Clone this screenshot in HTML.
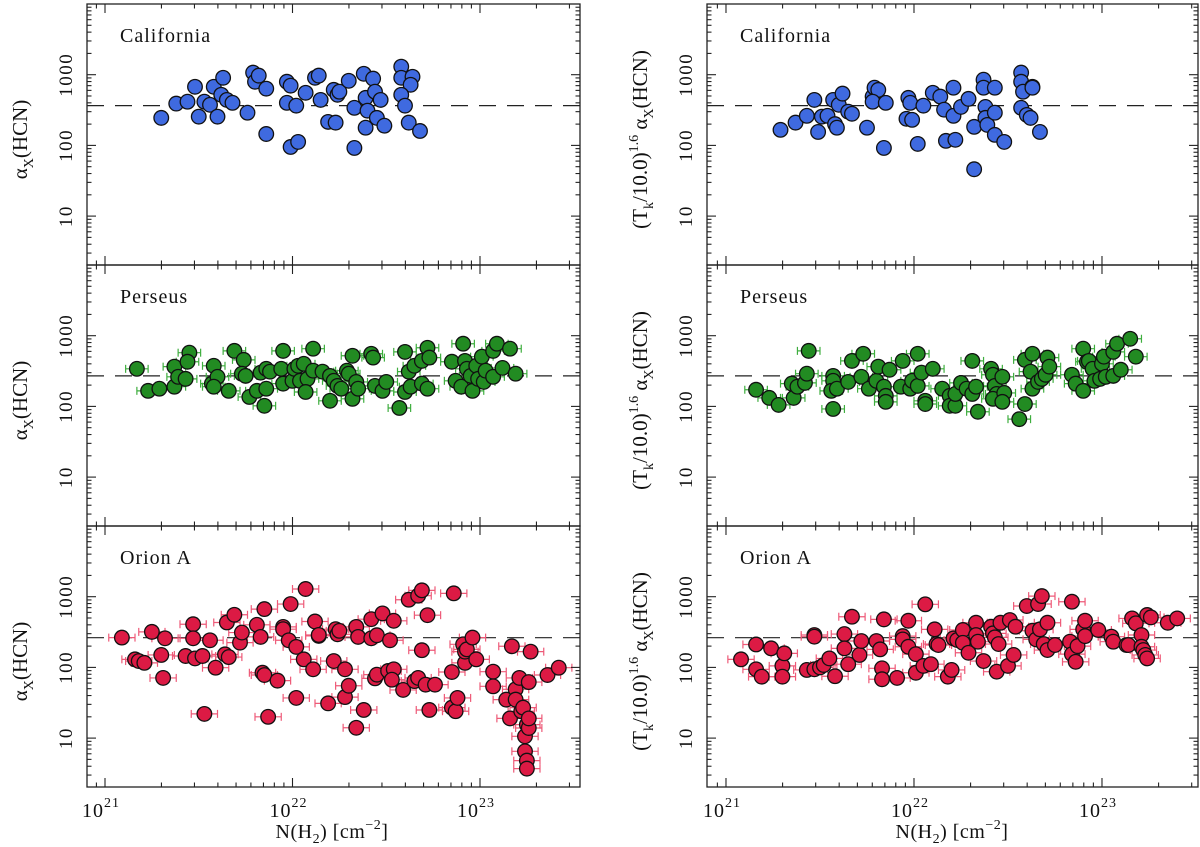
<!DOCTYPE html>
<html><head><meta charset="utf-8"><style>
html,body{margin:0;padding:0;background:#fff;}
svg{display:block;font-family:"Liberation Serif","DejaVu Serif",serif;}
</style></head><body>
<svg id="chart" width="1200" height="847" viewBox="0 0 1200 847" xmlns="http://www.w3.org/2000/svg"></svg>
<script>
const calLeftN=[21.30,21.38,21.44,21.48,21.50,21.53,21.56,21.58,21.60,21.62,21.63,21.65,21.68,21.76,21.79,21.80,21.82,21.86,21.86,21.97,21.97,21.99,21.99,22.02,22.03,22.07,22.12,22.14,22.15,22.19,22.22,22.23,22.24,22.25,22.30,22.33,22.33,22.38,22.39,22.40,22.39,22.43,22.44,22.45,22.47,22.49,22.58,22.58,22.64,22.63,22.58,22.60,22.62,22.68];
const calLeftA=[245,390,415,675,255,415,375,675,255,520,905,440,400,290,1070,795,970,635,145,400,795,700,95,365,112,555,905,970,440,215,610,210,520,575,820,340,92,1030,470,310,178,880,575,245,440,190,1300,905,935,720,520,365,210,160];
const calRightN=[21.29,21.37,21.43,21.47,21.49,21.51,21.54,21.58,21.59,21.57,21.60,21.62,21.65,21.67,21.75,21.78,21.79,21.81,21.78,21.85,21.84,21.97,21.98,21.96,21.99,22.02,22.05,22.10,22.14,22.16,22.17,22.22,22.21,22.21,22.25,22.29,22.32,22.32,22.37,22.37,22.38,22.38,22.39,22.43,22.43,22.43,22.48,22.57,22.57,22.58,22.57,22.60,22.62,22.63,22.63,22.67];
const calRightA=[166,210,262,440,155,255,262,200,178,440,375,540,300,280,178,490,655,610,415,400,92,470,400,238,230,105,365,555,490,320,116,120,262,655,350,455,183,46,850,655,350,245,195,290,655,141,112,1070,795,575,340,270,245,675,655,155];
const perLeftN=[21.17,21.23,21.29,21.37,21.37,21.39,21.43,21.45,21.44,21.58,21.57,21.60,21.58,21.66,21.69,21.74,21.73,21.75,21.77,21.81,21.86,21.85,21.83,21.86,21.88,21.94,21.95,21.95,22.00,22.01,22.03,22.06,22.04,22.08,22.07,22.11,22.11,22.16,22.20,22.20,22.22,22.24,22.26,22.29,22.30,22.32,22.32,22.34,22.35,22.42,22.43,22.44,22.48,22.50,22.57,22.60,22.60,22.62,22.63,22.65,22.69,22.69,22.72,22.73,22.72,22.85,22.87,22.91,22.92,22.90,22.93,22.95,22.96,22.98,22.99,23.01,23.02,23.03,23.07,23.09,23.07,23.12,23.16,23.19];
const perLeftA=[340,166,178,190,365,262,245,575,428,375,210,262,190,166,610,455,290,270,136,166,178,102,300,340,310,340,210,610,230,340,375,400,230,245,160,655,320,310,270,120,230,195,178,320,290,520,128,222,178,555,490,195,166,222,95,160,590,310,190,375,210,440,675,490,178,428,230,770,440,190,340,270,166,375,245,505,222,320,610,770,262,350,655,290];
const perRightN=[21.16,21.23,21.28,21.35,21.36,21.38,21.42,21.43,21.44,21.57,21.57,21.56,21.59,21.57,21.65,21.67,21.72,21.73,21.76,21.80,21.81,21.84,21.85,21.85,21.87,21.93,21.94,21.98,21.99,22.02,22.02,22.04,22.06,22.06,22.10,22.15,22.19,22.19,22.22,22.22,22.25,22.28,22.31,22.33,22.31,22.34,22.41,22.42,22.43,22.44,22.42,22.47,22.48,22.47,22.56,22.59,22.59,22.63,22.62,22.63,22.66,22.68,22.70,22.71,22.72,22.84,22.86,22.90,22.90,22.92,22.93,22.95,22.96,22.99,23.00,23.01,23.02,23.06,23.06,23.08,23.10,23.15,23.18];
const perRightA=[172,132,105,210,132,190,215,290,610,270,230,166,178,92,222,440,262,555,178,230,365,190,141,116,330,190,440,178,230,555,195,300,120,108,340,178,141,102,102,150,215,178,150,190,440,84,340,280,195,150,128,262,155,116,66,108,455,555,310,178,222,245,280,490,365,280,210,655,166,428,440,340,230,245,400,505,262,270,590,770,330,905,505];
const oriLeftN=[21.09,21.16,21.18,21.21,21.25,21.30,21.32,21.31,21.43,21.47,21.47,21.48,21.52,21.53,21.56,21.59,21.64,21.65,21.66,21.69,21.72,21.73,21.81,21.83,21.84,21.85,21.85,21.87,21.92,21.95,21.95,21.98,21.99,22.02,22.02,22.06,22.07,22.11,22.12,22.14,22.14,22.19,22.22,22.23,22.24,22.25,22.28,22.28,22.30,22.34,22.34,22.35,22.38,22.42,22.42,22.44,22.45,22.45,22.48,22.51,22.52,22.54,22.54,22.53,22.59,22.62,22.65,22.67,22.67,22.69,22.69,22.71,22.72,22.73,22.76,22.85,22.85,22.86,22.87,22.88,22.91,22.92,22.92,22.93,22.96,22.98,23.07,23.07,23.14,23.16,23.17,23.19,23.19,23.21,23.22,23.23,23.25,23.24,23.24,23.25,23.25,23.26,23.26,23.27,23.26,23.36,23.42];
const oriLeftA=[264,130,123,116,318,150,258,71,145,408,258,134,145,22,242,99,153,432,140,555,224,311,400,270,84,78,668,20,65,374,347,242,787,195,37,130,1285,94,446,279,288,31,123,347,294,329,94,38,55,14,374,270,25,258,481,70,79,285,580,89,242,456,94,67,48,906,64,1033,71,175,1230,57,548,25,57,86,27,1115,24,37,212,116,167,180,264,130,87,54,35,19,199,49,35,71,24,27,15.5,10.6,6.5,4.8,3.7,13.9,19,167,62,78,99];
const oriRightN=[21.08,21.16,21.16,21.19,21.24,21.30,21.31,21.30,21.43,21.47,21.47,21.47,21.50,21.52,21.55,21.58,21.63,21.63,21.65,21.67,21.71,21.72,21.80,21.82,21.83,21.83,21.84,21.91,21.94,21.94,21.97,21.97,22.01,22.01,22.05,22.06,22.09,22.11,22.12,22.13,22.18,22.20,22.21,22.23,22.26,22.26,22.29,22.33,22.33,22.34,22.37,22.41,22.42,22.43,22.45,22.44,22.46,22.50,22.51,22.53,22.54,22.60,22.66,22.68,22.63,22.65,22.67,22.69,22.71,22.71,22.75,22.83,22.84,22.84,22.86,22.87,22.90,22.91,22.91,22.98,23.05,23.06,23.13,23.14,23.16,23.18,23.21,23.21,23.22,23.23,23.24,23.24,23.26,23.35,23.40];
const oriRightA=[130,211,94,74,186,105,158,74,92,287,272,94,100,108,134,75,296,186,111,521,150,236,236,180,97,68,478,71,277,249,457,196,154,84,105,780,111,345,214,207,74,92,257,244,338,223,161,428,287,231,123,376,303,266,214,87,428,105,468,150,376,738,788,1020,330,249,345,214,428,176,207,231,154,849,120,200,345,457,277,338,272,231,207,207,493,420,287,196,176,150,134,551,510,428,493];
const refValues=[365,270,263];
const regionNames=["California","Perseus","Orion A"];
const yTickValues=[10,100,1000];
const yTickLabels=["10","100","1000"];
const xTickExps=[21,22,23];

const NS="http://www.w3.org/2000/svg";
const svg=document.getElementById('chart');
function mk(tag,attrs,parent){const e=document.createElementNS(NS,tag);for(const k in attrs)e.setAttribute(k,attrs[k]);(parent||svg).appendChild(e);return e;}

const cols=[{left:87,w:493,x0:20.904,dec:187.5},{left:707,w:491,x0:20.899,dec:188}];
const rows=[4,265,526]; const PH=261; const LOGTOP=4.0; const YDEC=70.7;
const fills=["#3f6ae0","#228b22","#dc1a44"];
const errCols=["#6f93f0","#3fae3f","#ee5a78"];
const xErr=[0.0,0.06,0.07], yErr=[0.05,0.05,0.06];
const data=[[ [calLeftN,calLeftA],[calRightN,calRightA] ],[ [perLeftN,perLeftA],[perRightN,perRightA] ],[ [oriLeftN,oriLeftA],[oriRightN,oriRightA] ]];

function xs(c,l){return cols[c].left+(l-cols[c].x0)*cols[c].dec;}
function ys(r,v){return rows[r]+(LOGTOP-Math.log10(v))*YDEC;}
function ysl(r,lv){return rows[r]+(LOGTOP-lv)*YDEC;}

for(let r=0;r<3;r++){for(let c=0;c<2;c++){
  const C=cols[c], top=rows[r];
  const g=mk('g',{});
  
  
  const rl=mk('line',{x1:C.left,x2:C.left+C.w,y1:ys(r,refValues[r]),y2:ys(r,refValues[r]),stroke:'#222','stroke-width':1.2,'stroke-dasharray':'17,11'},g);
  
  
  const N=data[r][c][0], A=data[r][c][1];
  const eg=mk('g',{stroke:errCols[r],'stroke-width':1.2,fill:'none'},g);
  for(let i=0;i<N.length;i++){
    const x=xs(c,N[i]), y=ys(r,A[i]);
    if(xErr[r]>0){const xa=xs(c,N[i]-xErr[r]), xb=xs(c,N[i]+xErr[r]);
      mk('line',{x1:xa,x2:xb,y1:y,y2:y},eg);mk('line',{x1:xa,x2:xa,y1:y-4,y2:y+4},eg);mk('line',{x1:xb,x2:xb,y1:y-4,y2:y+4},eg);}
    const ya=ys(r,A[i]*Math.pow(10,yErr[r])), yb=ys(r,A[i]/Math.pow(10,yErr[r]));
    mk('line',{x1:x,x2:x,y1:ya,y2:yb},eg);mk('line',{x1:x-5,x2:x+5,y1:ya,y2:ya},eg);mk('line',{x1:x-5,x2:x+5,y1:yb,y2:yb},eg);
  }
  for(let i=0;i<N.length;i++){
    const p=mk('circle',{cx:xs(c,N[i]),cy:ys(r,A[i]),r:7.3,fill:fills[r],stroke:'#111','stroke-width':1.3},g);
    
    
  }
  const fr=mk('rect',{x:C.left,y:top,width:C.w,height:PH,fill:'none',stroke:'#222','stroke-width':1.3},g);
  
  
  const tg=mk('g',{stroke:'#222','stroke-width':1.1},g);
  for(let d=0;d<4;d++){for(let m=1;m<10;m++){
    const lv=d+Math.log10(m); if(lv>LOGTOP||lv<0.31)continue;
    const y=ysl(r,lv), len=m===1?9:4.5;
    mk('line',{x1:C.left,x2:C.left+len,y1:y,y2:y},tg);
    mk('line',{x1:C.left+C.w,x2:C.left+C.w-len,y1:y,y2:y},tg);
  }}
  for(let d=20;d<24;d++){for(let m=1;m<10;m++){
    const lx=d+Math.log10(m); const x=xs(c,lx);
    if(x<C.left+1||x>C.left+C.w-1)continue;
    const len=m===1?9:4.5;
    mk('line',{x1:x,x2:x,y1:top+PH,y2:top+PH-len},tg);
    mk('line',{x1:x,x2:x,y1:top,y2:top+len},tg);
  }}
  for(let k=0;k<yTickValues.length;k++){
    const y=ys(r,yTickValues[k]), lx=c?686:66;
    const t=mk('text',{x:0,y:0,transform:`translate(${lx+6},${y}) rotate(-90)`,'text-anchor':'middle','font-size':19,'letter-spacing':1.5,fill:'#111'});
    t.textContent=yTickLabels[k];
    
    
  }
  const rt=mk('text',{x:C.left+33,y:top+38,'font-size':20,'letter-spacing':1,fill:'#111'});
  rt.textContent=regionNames[r];
  
  
  const cy=top+PH/2+5;
  if(c===0){
    const t=mk('text',{transform:`translate(27,${cy}) rotate(-90)`,'text-anchor':'middle','font-size':21,fill:'#111'});
    t.innerHTML='α<tspan font-size="14" dy="6">X</tspan><tspan dy="-6">(HCN)</tspan>';
    
    
  } else {
    const t=mk('text',{transform:`translate(647,${cy}) rotate(-90)`,'text-anchor':'middle','font-size':21,fill:'#111'});
    t.innerHTML='(T<tspan font-size="14" dy="6">k</tspan><tspan dy="-6">/10.0)</tspan><tspan font-size="14" dy="-9">1.6</tspan><tspan dy="9"> α</tspan><tspan font-size="14" dy="6">X</tspan><tspan dy="-6">(HCN)</tspan>';
    
    
  }
}}
for(let c=0;c<2;c++){
  for(let k=0;k<xTickExps.length;k++){
    const x=xs(c,xTickExps[k]);
    const t=mk('text',{x:x-4,y:817,'text-anchor':'middle','font-size':20,'letter-spacing':1,fill:'#111'});
    t.innerHTML='10<tspan font-size="14" dy="-10">'+xTickExps[k]+'</tspan>';
    
    
  }
  const cx=c?952:332;
  const t=mk('text',{x:cx,y:838,'text-anchor':'middle','font-size':20,'letter-spacing':0.5,fill:'#111'});
  t.innerHTML='N(H<tspan font-size="14" dy="5">2</tspan><tspan dy="-5">)  [cm</tspan><tspan font-size="14" dy="-9">−2</tspan><tspan dy="9">]</tspan>';
  
  
}
</script>
</body></html>
